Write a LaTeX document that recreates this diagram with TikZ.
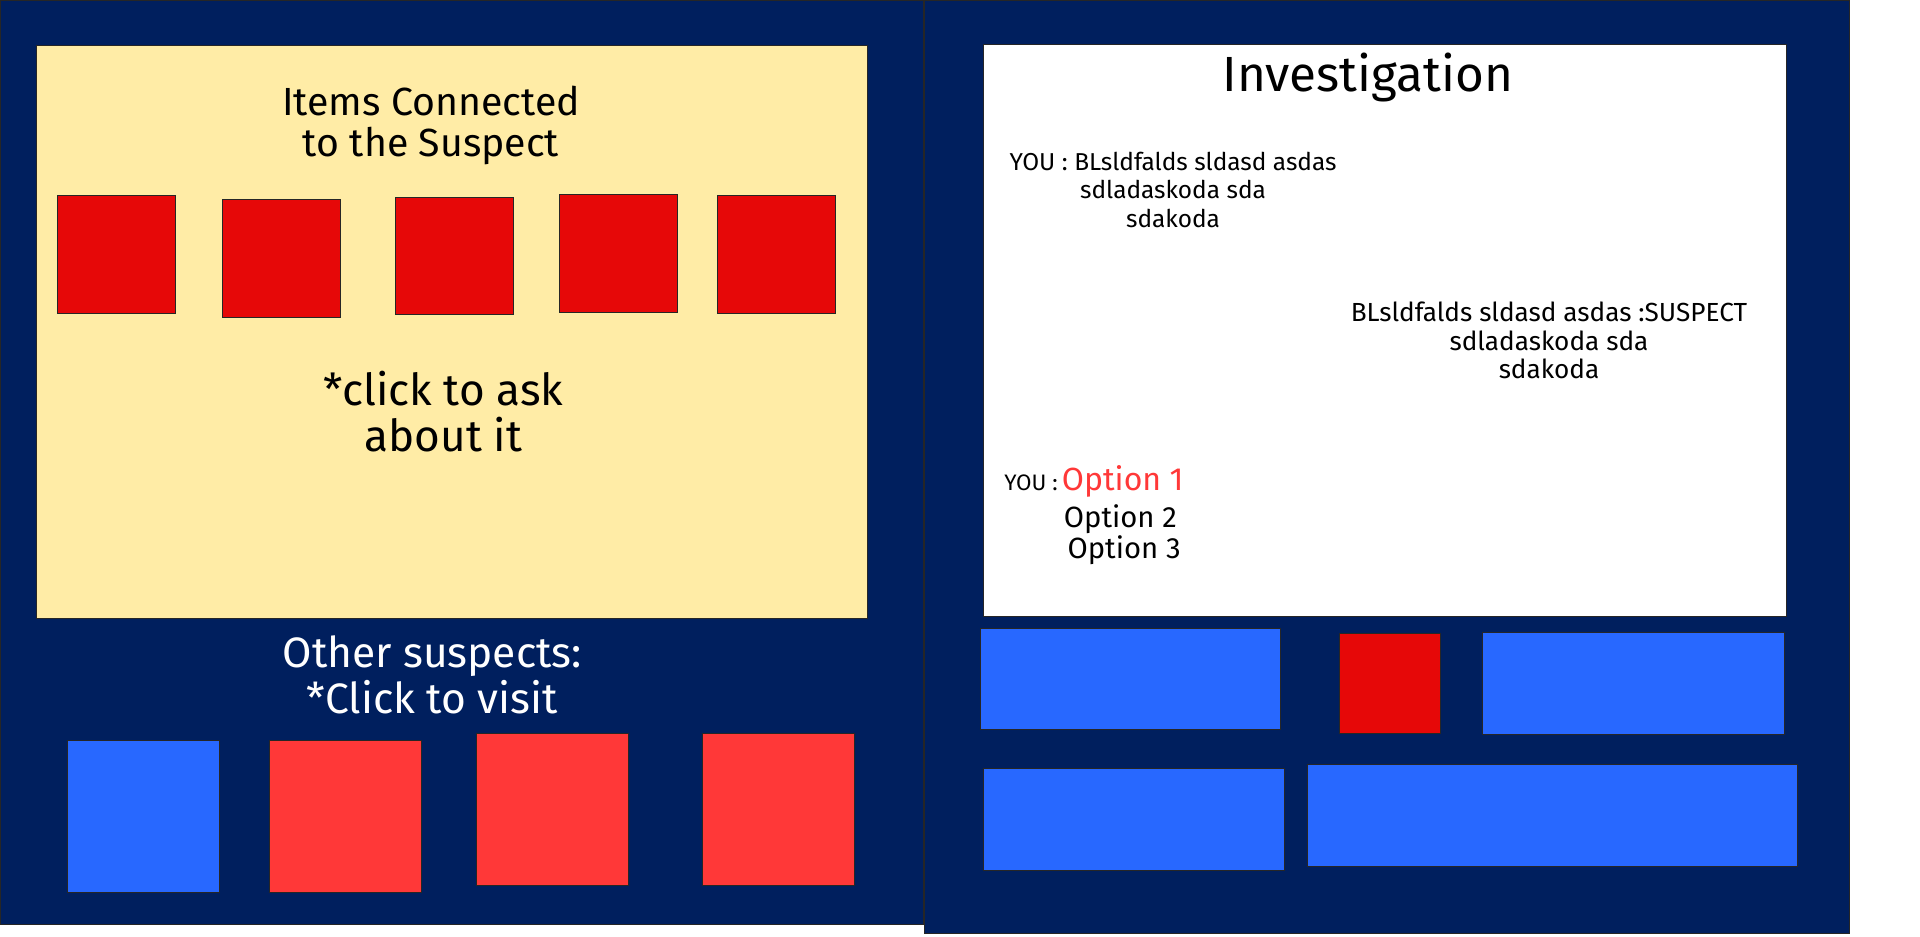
\documentclass[tikz,border=0pt]{standalone}
\usepackage{fontspec}
\setmainfont{Fira Sans}
\usepackage{tikz}
\usetikzlibrary{positioning}
\usepackage{xcolor}
\definecolor{navy}{RGB}{0,31,94}
\definecolor{sand}{RGB}{255,236,166}
\definecolor{itemred}{RGB}{230,8,8}
\definecolor{susred}{RGB}{255,56,56}
\definecolor{susblue}{RGB}{40,104,255}
\newcommand{\px}{0.025cm}
\tikzstyle{box}=[draw=black!85, line width=0.5pt, inner sep=0pt, outer sep=0pt]
\tikzstyle{panel}=[box, fill=navy]
\tikzstyle{item}=[box, fill=itemred, minimum width=96*\px, minimum height=96*\px]
\tikzstyle{suspect}=[box, minimum width=124*\px, minimum height=124*\px]
\tikzstyle{btn}=[box, fill=susblue, minimum height=83*\px]
\tikzstyle{txt}=[inner sep=0pt, align=center]

\begin{document}
\begin{tikzpicture}[x=\px,y=-\px]
\useasboundingbox[fill=white] (0,0) rectangle (1568,765);
% suspect page
\node[panel, minimum width=754*\px, minimum height=755*\px] (left) at (377,377.5) {};
\node[box, fill=sand, minimum width=678*\px, minimum height=468*\px] (items) at (369,271) {};
\node[txt, font=\fontsize{22.8}{24.2}\selectfont] (itemstitle) at (352,102.5) {Items Connected\\to the Suspect};
\foreach \n/\x/\y in {1/95/208,2/230/211,3/371/209,4/505/207,5/634/208} {
	\node[item] (item\n) at (\x,\y) {};
}
\node[txt, font=\fontsize{25.6}{26.3}\selectfont] (ask) at (362,336) {*click to ask\\about it};
\node[txt, text=white, font=\fontsize{24.7}{26.3}\selectfont] (others) at (353,551) {Other suspects:\\*Click to visit};
\foreach \n/\x/\y/\c in {1/117/667/susblue,2/282/667/susred,3/451/661/susred,4/636/661/susred} {
	\node[suspect, fill=\c] (sus\n) at (\x,\y) {};
}
% investigation page
\node[panel, minimum width=755*\px, minimum height=762*\px] (right) at (1132.5,381) {};
\node[box, fill=white, minimum width=656*\px, minimum height=467*\px] (chat) at (1131,269.5) {};
\node[txt, font=\fontsize{28.7}{30}\selectfont] (invtitle) at (1117,63) {Investigation};
\node[txt, font=\fontsize{14.2}{16.4}\selectfont] (youline) at (958,155) {YOU : BLsldfalds sldasd asdas\\sdladaskoda sda\\sdakoda};
\node[txt, font=\fontsize{15.2}{16.4}\selectfont] (susline) at (1265,278) {BLsldfalds sldasd asdas :SUSPECT\\sdladaskoda sda\\sdakoda};
\node[txt, anchor=west, text=susred, font=\fontsize{18.6}{20}\selectfont] (opt1) at (867,393) {Option 1};
\node[txt, anchor=base east, font=\fontsize{13}{14}\selectfont] (youopt) at ([xshift=-3*\px]opt1.base west) {YOU :};
\node[txt, font=\fontsize{17}{18}\selectfont] (opt2) at (915,424) {Option 2};
\node[txt, font=\fontsize{17}{18}\selectfont] (opt3) at (918,449) {Option 3};
\node[btn, minimum width=245*\px] (btn1) at (923.5,554.5) {};
\node[box, fill=itemred, minimum width=82*\px, minimum height=82*\px] (clue) at (1135,558) {};
\node[btn, minimum width=246*\px] (btn2) at (1334,558) {};
\node[btn, minimum width=246*\px] (btn3) at (926,669) {};
\node[btn, minimum width=400*\px] (btn4) at (1268,666) {};
\end{tikzpicture}
\end{document}
